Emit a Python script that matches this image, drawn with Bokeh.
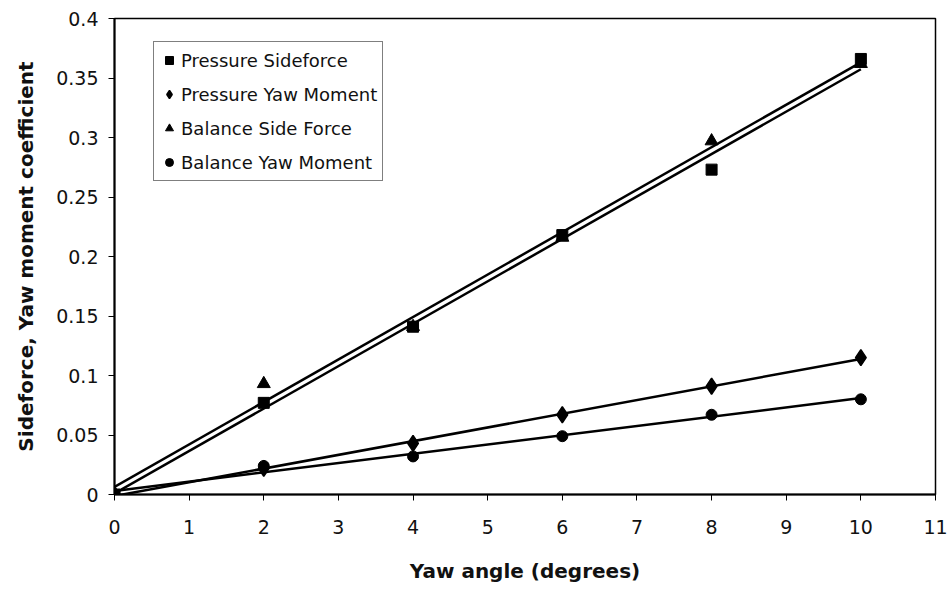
import numpy as np
from bokeh.plotting import figure
from bokeh.models import Range1d, FixedTicker, Legend, LegendItem
from bokeh.embed import file_html
from bokeh.resources import INLINE

# ---- data ----
yaw_angle = [0, 2, 4, 6, 8, 10]
pressure_sideforce = [0.0, 0.077, 0.141, 0.218, 0.273, 0.366]
pressure_yaw_moment = [0.0, 0.022, 0.043, 0.067, 0.091, 0.115]
balance_side_force = [0.0, 0.093, 0.141, 0.216, 0.297, 0.362]
balance_yaw_moment = [0.0, 0.024, 0.032, 0.049, 0.067, 0.080]

series_names = ["Pressure Sideforce", "Pressure Yaw Moment",
                "Balance Side Force", "Balance Yaw Moment"]

x_ticks = [0, 1, 2, 3, 4, 5, 6, 7, 8, 9, 10, 11]
y_ticks = [0, 0.05, 0.1, 0.15, 0.2, 0.25, 0.3, 0.35, 0.4]
y_tick_labels = ["0", "0.05", "0.1", "0.15", "0.2", "0.25", "0.3", "0.35", "0.4"]

x_title = "Yaw angle (degrees)"
y_title = "Sideforce, Yaw moment coefficient"

# ---- figure ----
p = figure(width=949, height=589, output_backend="svg", toolbar_location=None,
           x_range=Range1d(0, 11), y_range=Range1d(0, 0.4),
           min_border_left=114, min_border_right=14,
           min_border_top=18, min_border_bottom=95)

p.background_fill_color = "white"
p.border_fill_color = "white"
p.outline_line_color = "black"
p.outline_line_width = 1.5
p.xgrid.visible = False
p.ygrid.visible = False

TXT = "#111111"
for ax in (p.xaxis[0], p.yaxis[0]):
    ax.axis_line_color = "black"
    ax.axis_line_width = 2
    ax.major_tick_line_color = "black"
    ax.major_tick_line_width = 1
    ax.major_tick_out = 6
    ax.major_tick_in = 0
    ax.minor_tick_out = 0
    ax.minor_tick_in = 0
    ax.major_label_text_font = "DejaVu Sans"
    ax.major_label_text_font_size = "19px"
    ax.major_label_text_color = TXT
    ax.axis_label_text_font = "DejaVu Sans"
    ax.axis_label_text_font_style = "bold"
    ax.axis_label_text_font_size = "20px"
    ax.axis_label_text_color = TXT

p.xaxis.ticker = FixedTicker(ticks=x_ticks)
p.yaxis.ticker = FixedTicker(ticks=y_ticks)
p.yaxis.major_label_overrides = {t: l for t, l in zip(y_ticks, y_tick_labels)}
p.xaxis.major_label_standoff = 19
p.yaxis.major_label_standoff = 10
p.xaxis.axis_label = x_title
p.yaxis.axis_label = y_title
p.xaxis.axis_label_standoff = 22
p.yaxis.axis_label_standoff = 15

# ---- linear trend lines (least squares of each series) ----
xs = np.array(yaw_angle, dtype=float)
x_line = [xs.min(), xs.max()]
for ys in (pressure_sideforce, balance_side_force, pressure_yaw_moment, balance_yaw_moment):
    m, b = np.polyfit(xs, np.array(ys), 1)
    p.line(x_line, [m * x_line[0] + b, m * x_line[1] + b],
           line_color="black", line_width=2.5)

# ---- markers ----
r1 = p.scatter(yaw_angle, pressure_sideforce, marker="square", size=11,
               fill_color="black", line_color="black")
r2 = p.scatter(yaw_angle, pressure_yaw_moment, marker="diamond", size=16,
               fill_color="black", line_color="black", line_width=1.5)
r3 = p.scatter(yaw_angle, balance_side_force, marker="triangle", size=13,
               fill_color="black", line_color="black")
r4 = p.scatter(yaw_angle, balance_yaw_moment, marker="circle", size=11,
               fill_color="black", line_color="black")

legend = Legend(items=[LegendItem(label=n, renderers=[r])
                       for n, r in zip(series_names, [r1, r2, r3, r4])],
                location=(39, 313))
legend.border_line_color = "black"
legend.border_line_width = 1
legend.background_fill_color = "white"
legend.background_fill_alpha = 1
legend.padding = 5
legend.margin = 0
legend.spacing = 8
legend.glyph_width = 20
legend.glyph_height = 26
legend.label_height = 26
legend.label_standoff = 2
legend.label_text_font = "DejaVu Sans"
legend.label_text_font_size = "18px"
legend.label_text_color = TXT
p.add_layout(legend)

open("out.html", "w").write(file_html(p, INLINE))
